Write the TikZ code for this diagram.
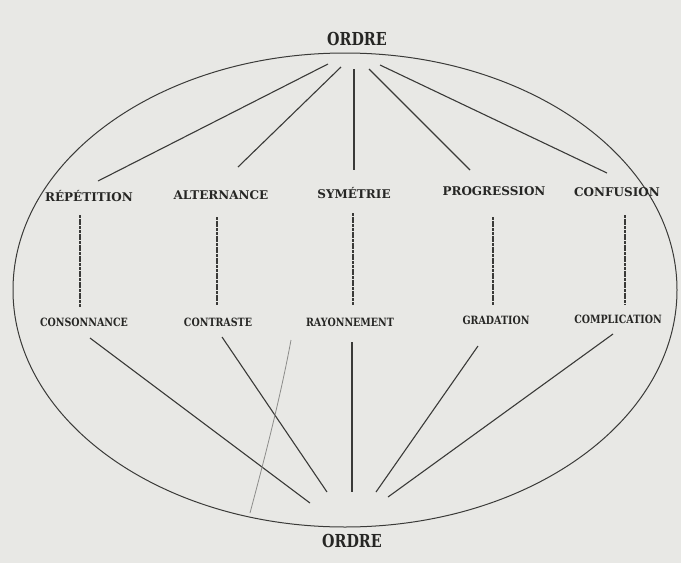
\documentclass[tikz,border=0pt]{standalone}
\usepackage{fontspec}
\setmainfont{DejaVu Serif}
\definecolor{paper}{RGB}{232,232,229}
\definecolor{ink}{RGB}{58,58,56}
\definecolor{textink}{RGB}{38,38,36}
\definecolor{faint}{RGB}{140,140,138}
\newcommand\ordrelbl[1]{\scalebox{1}[1.25]{\fontsize{14.3}{16}\selectfont\bfseries #1}}
\newcommand\upperlbl[1]{{\fontsize{12}{14}\selectfont\bfseries #1}}
\newcommand\lowerlbl[1]{\scalebox{1}[1.2]{\fontsize{9.5}{11}\selectfont\bfseries #1}}
\begin{document}
\begin{tikzpicture}[x=1pt,y=-1pt,
  lbl/.style={inner sep=0pt,text=textink},
  ray/.style={draw=ink,line width=1.1pt},
  vlink/.style={draw=ink,line width=1.3pt,dash pattern=on 3pt off 0.7pt},
  oval/.style={draw=ink,line width=1pt}]
\fill[paper] (0,0) rectangle (681,563);
\useasboundingbox (0,0) rectangle (681,563);
% ellipse
\draw[oval] (345,290) ellipse [x radius=332, y radius=237];
% labels
\node[lbl] (ordreT) at (357,39) {\ordrelbl{ORDRE}};
\node[lbl] (ordreB) at (352,541) {\ordrelbl{ORDRE}};
\node[lbl] (rep) at (89,196) {\upperlbl{RÉPÉTITION}};
\node[lbl] (alt) at (221,195) {\upperlbl{ALTERNANCE}};
\node[lbl] (sym) at (354,193) {\upperlbl{SYMÉTRIE}};
\node[lbl] (pro) at (494,191) {\upperlbl{PROGRESSION}};
\node[lbl] (cnf) at (617,192) {\upperlbl{CONFUSION}};
\node[lbl] (con) at (84,322) {\lowerlbl{CONSONNANCE}};
\node[lbl] (ctr) at (218,322) {\lowerlbl{CONTRASTE}};
\node[lbl] (ray) at (350,322) {\lowerlbl{RAYONNEMENT}};
\node[lbl] (gra) at (496,320) {\lowerlbl{GRADATION}};
\node[lbl] (cpl) at (618,319) {\lowerlbl{COMPLICATION}};
% fan endpoints (top)
\coordinate (t1) at (328,64);  \coordinate (e1) at (98,181);
\coordinate (t2) at (341,67);  \coordinate (e2) at (238,167);
\coordinate (t3) at (354,69);  \coordinate (e3) at (354,170);
\coordinate (t4) at (369,69);  \coordinate (e4) at (470,170);
\coordinate (t5) at (380,65);  \coordinate (e5) at (607,173);
\draw[ray] (t1) -- (e1);
\draw[ray] (t2) -- (e2);
\draw[ray] (t3) -- (e3);
\draw[ray] (t4) -- (e4);
\draw[ray] (t5) -- (e5);
% vertical links
\draw[vlink] (80,215) -- (80,307);
\draw[vlink] (217,217) -- (217,305);
\draw[vlink] (353,213) -- (353,305);
\draw[vlink] (493,217) -- (493,305);
\draw[vlink] (625,215) -- (625,305);
% fan endpoints (bottom)
\coordinate (s1) at (90,338);  \coordinate (b1) at (310,503);
\coordinate (s2) at (222,337); \coordinate (b2) at (327,492);
\coordinate (s3) at (352,342); \coordinate (b3) at (352,492);
\coordinate (s4) at (478,346); \coordinate (b4) at (376,492);
\coordinate (s5) at (613,334); \coordinate (b5) at (388,497);
\draw[ray] (s1) -- (b1);
\draw[ray] (s2) -- (b2);
\draw[ray] (s3) -- (b3);
\draw[ray] (s4) -- (b4);
\draw[ray] (s5) -- (b5);
% faint stray stroke
\coordinate (f1) at (250,513); \coordinate (f2) at (291,340);
\draw[draw=faint,line width=0.8pt] (f1) .. controls (262,468) and (280,400) .. (f2);
\end{tikzpicture}
\end{document}
